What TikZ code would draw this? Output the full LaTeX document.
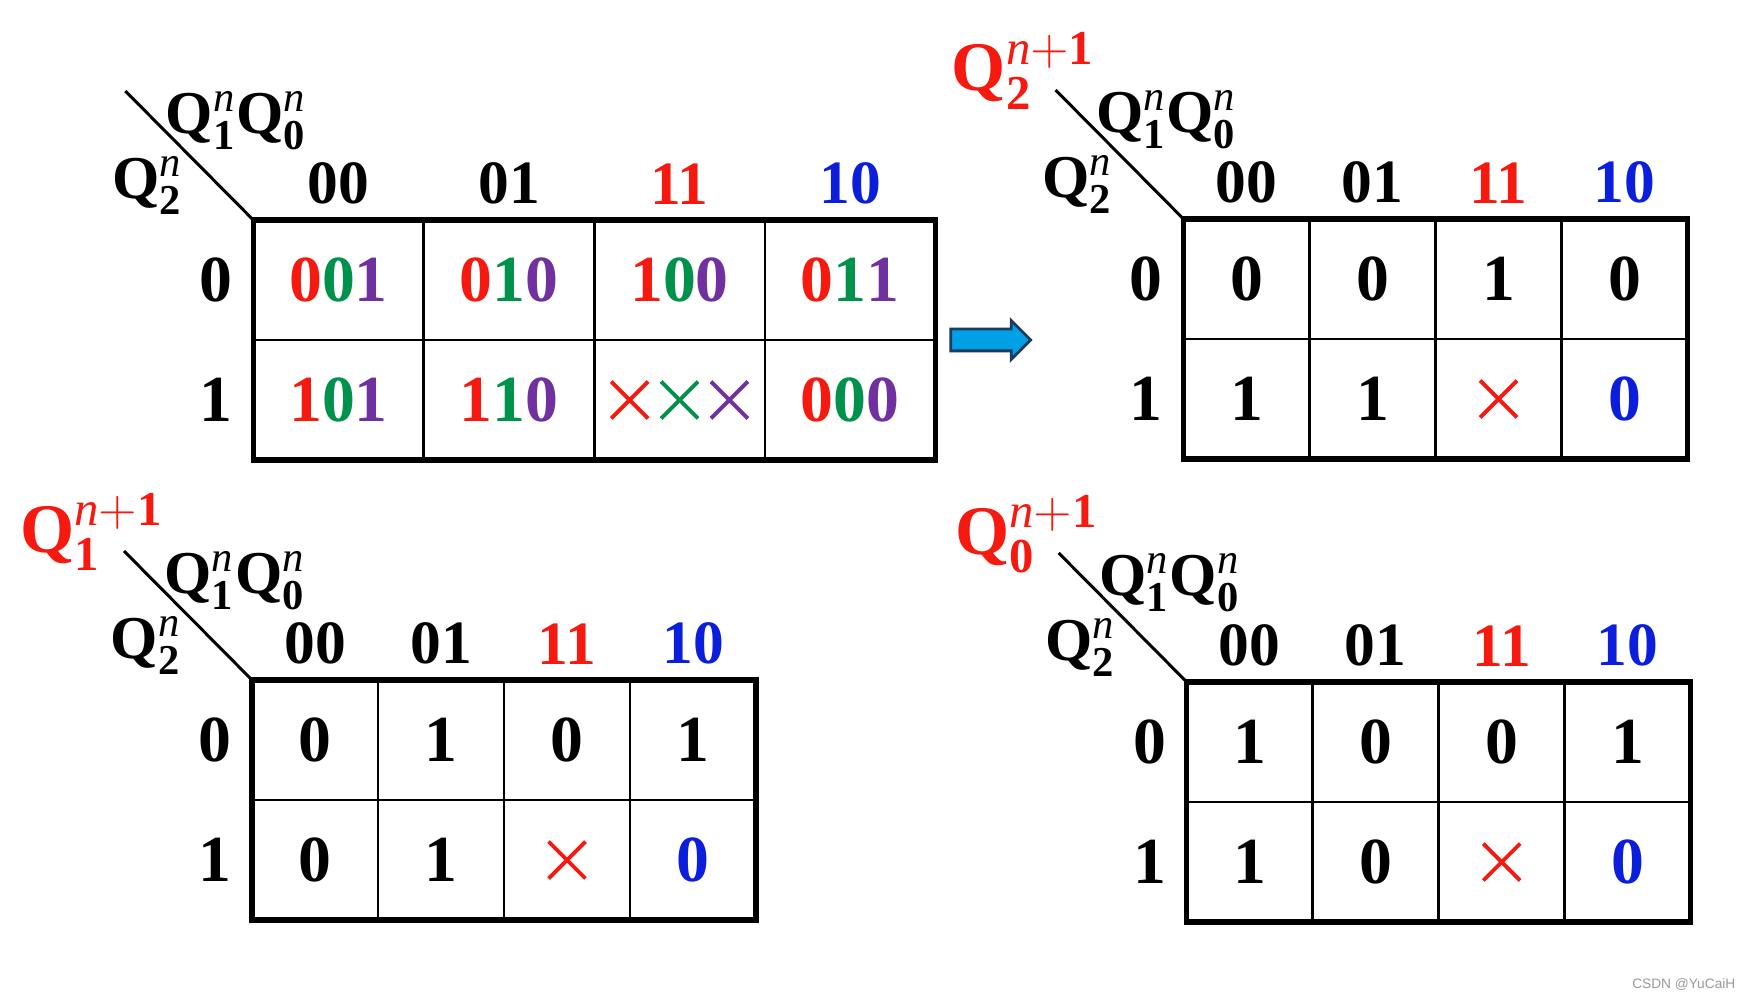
\documentclass[tikz,border=0pt]{standalone}
\usepackage{fontspec}
\setmainfont{Liberation Serif}
\setsansfont{Liberation Sans}
\usepackage{tikz}
\usetikzlibrary{shapes.misc,shapes.arrows}
\usetikzlibrary{positioning}

\definecolor{kred}{RGB}{245,25,15}
\definecolor{kgreen}{RGB}{0,145,75}
\definecolor{kpurple}{RGB}{112,48,160}
\definecolor{kblue}{RGB}{10,30,220}
\definecolor{kcyan}{RGB}{0,160,230}
\definecolor{kdark}{RGB}{25,60,95}

\newcommand{\qq}[1]{$\mathbf{Q}_{\mathbf{#1}}^{\mathit{n}}$}
\newcommand{\qnext}[1]{$\mathbf{Q}_{\mathbf{#1}}^{\mathit{n}\mathbf{+1}}$}
\newcommand{\tri}[3]{\textcolor{kred}{#1}\textcolor{kgreen}{#2}\textcolor{kpurple}{#3}}

\begin{document}
\begin{tikzpicture}[cell/.style={draw,line width=0.75pt,outer sep=0pt,inner sep=0pt,minimum height=1.2cm,font=\fontsize{18.7}{20}\selectfont\bfseries},
wide/.style={cell,minimum width=1.705cm},
narrow/.style={cell,minimum width=1.26cm},
head/.style={inner sep=0pt,font=\fontsize{17.5}{20}\selectfont\bfseries},
lab/.style={inner sep=0pt,font=\fontsize{18.7}{20}\selectfont\bfseries},
qlab/.style={inner sep=0pt,font=\fontsize{17.3}{20}\selectfont\bfseries},
qbig/.style={inner sep=0pt,text=kred,font=\fontsize{19.8}{22}\selectfont\bfseries},
frame/.style={line width=1.5pt},
diag/.style={line width=0.85pt},
xmark/.style={cross out,draw,line width=1.1pt,minimum size=0.33cm,inner sep=0pt}]
\fill[white] (0,0) rectangle (17.42,-10);
\useasboundingbox (0,0) rectangle (17.42,-10);

% state table
\node[wide, anchor=north west] (s-0-00) at (2.533,-2.2) {\tri001};
\node[wide, right=0pt of s-0-00] (s-0-01) {\tri010};
\node[wide, right=0pt of s-0-01] (s-0-11) {\tri100};
\node[wide, right=0pt of s-0-11] (s-0-10) {\tri011};
\node[wide, below=0pt of s-0-00] (s-1-00) {\tri101};
\node[wide, right=0pt of s-1-00] (s-1-01) {\tri110};
\node[wide, right=0pt of s-1-01] (s-1-11) {};
\node[wide, right=0pt of s-1-11] (s-1-10) {\tri000};
\draw[frame] (s-0-00.north west) rectangle (s-1-10.south east);
\node[xmark, draw=kgreen] (s-x2) at (s-1-11) {};
\node[xmark, draw=kred, left=0.13cm of s-x2] (s-x1) {};
\node[xmark, draw=kpurple, right=0.13cm of s-x2] (s-x3) {};
\node[head, above=0.15cm of s-0-00] (s-h00) {00};
\node[head, above=0.15cm of s-0-01] (s-h01) {01};
\node[head, text=kred, above=0.15cm of s-0-11] (s-h11) {11};
\node[head, text=kblue, above=0.15cm of s-0-10] (s-h10) {10};
\node[lab, left=0.2cm of s-0-00] (s-r0) {0};
\node[lab, left=0.2cm of s-1-00] (s-r1) {1};
\coordinate (s-d) at ([shift={(-1.28,1.29)}]s-0-00.north west);
\draw[diag] (s-d) -- (s-0-00.north west);
\node[qlab, anchor=base] (s-top) at ([shift={(-0.17,0.86)}]s-0-00.north west) {\qq1\qq0};
\node[qlab, anchor=base] (s-side) at ([shift={(-1.06,0.21)}]s-0-00.north west) {\qq2};

\node[single arrow, draw=kdark, fill=kcyan, line width=0.8pt, minimum height=0.8cm, inner xsep=0pt, inner ysep=0.095cm, single arrow head extend=0.085cm, right=0.14cm of s-1-10.north east] (arr) {};

% Q2 next
\node[narrow, anchor=north west] (q2-0-00) at (11.835,-2.19) {0};
\node[narrow, right=0pt of q2-0-00] (q2-0-01) {0};
\node[narrow, right=0pt of q2-0-01] (q2-0-11) {1};
\node[narrow, right=0pt of q2-0-11] (q2-0-10) {0};
\node[narrow, below=0pt of q2-0-00] (q2-1-00) {1};
\node[narrow, right=0pt of q2-1-00] (q2-1-01) {1};
\node[narrow, right=0pt of q2-1-01] (q2-1-11) {};
\node[narrow, text=kblue, right=0pt of q2-1-11] (q2-1-10) {0};
\draw[frame] (q2-0-00.north west) rectangle (q2-1-10.south east);
\node[xmark, draw=kred] (q2-x) at (q2-1-11) {};
\node[head, above=0.15cm of q2-0-00] (q2-h00) {00};
\node[head, above=0.15cm of q2-0-01] (q2-h01) {01};
\node[head, text=kred, above=0.15cm of q2-0-11] (q2-h11) {11};
\node[head, text=kblue, above=0.15cm of q2-0-10] (q2-h10) {10};
\node[lab, left=0.2cm of q2-0-00] (q2-r0) {0};
\node[lab, left=0.2cm of q2-1-00] (q2-r1) {1};
\coordinate (q2-d) at ([shift={(-1.28,1.29)}]q2-0-00.north west);
\draw[diag] (q2-d) -- (q2-0-00.north west);
\node[qlab, anchor=base] (q2-top) at ([shift={(-0.17,0.86)}]q2-0-00.north west) {\qq1\qq0};
\node[qlab, anchor=base] (q2-side) at ([shift={(-1.06,0.21)}]q2-0-00.north west) {\qq2};
\node[qbig, anchor=base] (q2-name) at ([shift={(-1.6,1.28)}]q2-0-00.north west) {\qnext2};

% Q1 next
\node[narrow, anchor=north west] (q1-0-00) at (2.52,-6.8) {0};
\node[narrow, right=0pt of q1-0-00] (q1-0-01) {1};
\node[narrow, right=0pt of q1-0-01] (q1-0-11) {0};
\node[narrow, right=0pt of q1-0-11] (q1-0-10) {1};
\node[narrow, below=0pt of q1-0-00] (q1-1-00) {0};
\node[narrow, right=0pt of q1-1-00] (q1-1-01) {1};
\node[narrow, right=0pt of q1-1-01] (q1-1-11) {};
\node[narrow, text=kblue, right=0pt of q1-1-11] (q1-1-10) {0};
\draw[frame] (q1-0-00.north west) rectangle (q1-1-10.south east);
\node[xmark, draw=kred] (q1-x) at (q1-1-11) {};
\node[head, above=0.15cm of q1-0-00] (q1-h00) {00};
\node[head, above=0.15cm of q1-0-01] (q1-h01) {01};
\node[head, text=kred, above=0.15cm of q1-0-11] (q1-h11) {11};
\node[head, text=kblue, above=0.15cm of q1-0-10] (q1-h10) {10};
\node[lab, left=0.2cm of q1-0-00] (q1-r0) {0};
\node[lab, left=0.2cm of q1-1-00] (q1-r1) {1};
\coordinate (q1-d) at ([shift={(-1.28,1.29)}]q1-0-00.north west);
\draw[diag] (q1-d) -- (q1-0-00.north west);
\node[qlab, anchor=base] (q1-top) at ([shift={(-0.17,0.86)}]q1-0-00.north west) {\qq1\qq0};
\node[qlab, anchor=base] (q1-side) at ([shift={(-1.06,0.21)}]q1-0-00.north west) {\qq2};
\node[qbig, anchor=base] (q1-name) at ([shift={(-1.6,1.28)}]q1-0-00.north west) {\qnext1};

% Q0 next
\node[narrow, anchor=north west] (q0-0-00) at (11.867,-6.82) {1};
\node[narrow, right=0pt of q0-0-00] (q0-0-01) {0};
\node[narrow, right=0pt of q0-0-01] (q0-0-11) {0};
\node[narrow, right=0pt of q0-0-11] (q0-0-10) {1};
\node[narrow, below=0pt of q0-0-00] (q0-1-00) {1};
\node[narrow, right=0pt of q0-1-00] (q0-1-01) {0};
\node[narrow, right=0pt of q0-1-01] (q0-1-11) {};
\node[narrow, text=kblue, right=0pt of q0-1-11] (q0-1-10) {0};
\draw[frame] (q0-0-00.north west) rectangle (q0-1-10.south east);
\node[xmark, draw=kred] (q0-x) at (q0-1-11) {};
\node[head, above=0.15cm of q0-0-00] (q0-h00) {00};
\node[head, above=0.15cm of q0-0-01] (q0-h01) {01};
\node[head, text=kred, above=0.15cm of q0-0-11] (q0-h11) {11};
\node[head, text=kblue, above=0.15cm of q0-0-10] (q0-h10) {10};
\node[lab, left=0.2cm of q0-0-00] (q0-r0) {0};
\node[lab, left=0.2cm of q0-1-00] (q0-r1) {1};
\coordinate (q0-d) at ([shift={(-1.28,1.29)}]q0-0-00.north west);
\draw[diag] (q0-d) -- (q0-0-00.north west);
\node[qlab, anchor=base] (q0-top) at ([shift={(-0.17,0.86)}]q0-0-00.north west) {\qq1\qq0};
\node[qlab, anchor=base] (q0-side) at ([shift={(-1.06,0.21)}]q0-0-00.north west) {\qq2};
\node[qbig, anchor=base] (q0-name) at ([shift={(-1.6,1.28)}]q0-0-00.north west) {\qnext0};

\node[anchor=east, inner sep=0pt, text=gray!80, font=\sffamily\fontsize{3.9}{4}\selectfont] (mark) at (17.36,-9.84) {CSDN @YuCaiH};
\end{tikzpicture}
\end{document}
